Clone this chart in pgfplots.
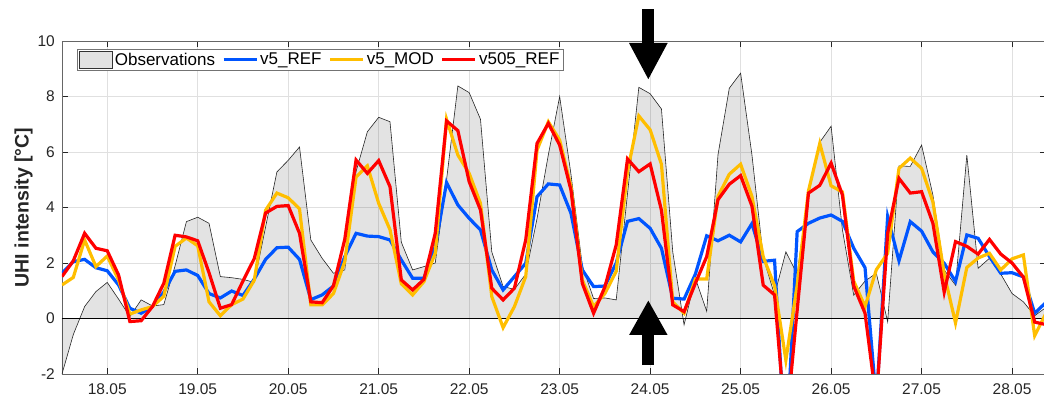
\documentclass[border=0pt]{standalone}
\usepackage{fontspec}
\setmainfont{Liberation Sans}
\usepackage{pgfplots}
\pgfplotsset{compat=1.18}
\usepackage{pgfplotstable}
\usetikzlibrary{arrows.meta}

\definecolor{refblue}{RGB}{0,85,255}
\definecolor{modyellow}{RGB}{255,190,0}
\definecolor{newred}{RGB}{255,0,0}
\definecolor{axisgray}{RGB}{38,38,38}
\definecolor{obsfill}{RGB}{227,227,227}

% 3-hourly UHI intensity, day of May (17.5 = 17.05 12:00)
\pgfplotstableread{
t       obs    ref    mod    new
17.5   -2.00   1.63   1.21   1.51
17.625 -0.58   2.05   1.48   2.08
17.75   0.43   2.13   2.83   3.07
17.875  0.97   1.83   1.87   2.53
18.0    1.30   1.72   2.25   2.44
18.125  0.70   1.21   1.39   1.57
18.25   0.07   0.37   0.16  -0.11
18.375  0.67   0.19   0.31  -0.08
18.5    0.45   0.43   0.43   0.43
18.625  0.50   0.95   0.80   1.27
18.75   1.90   1.70   2.60   3.00
18.875  3.49   1.75   2.90   2.94
19.0    3.65   1.55   2.62   2.80
19.125  3.43   0.90   0.60   1.65
19.25   1.51   0.74   0.10   0.37
19.375  1.47   0.99   0.50   0.50
19.5    1.41   0.83   0.70   1.35
19.625  1.30   1.42   1.38   2.16
19.75   3.30   2.13   3.90   3.80
19.875  5.28   2.55   4.52   4.04
20.0    5.70   2.57   4.35   4.07
20.125  6.18   2.13   3.95   3.07
20.25   2.83   0.68   0.49   0.60
20.375  2.17   0.85   0.49   0.57
20.5    1.63   1.17   0.90   1.18
20.625  1.75   2.23   2.05   2.85
20.75   5.30   3.07   5.10   5.71
20.875  6.73   2.97   5.50   5.23
21.0    7.25   2.95   4.15   5.69
21.125  7.09   2.83   3.20   4.75
21.25   2.75   2.11   1.25   1.39
21.375  1.75   1.45   0.85   1.03
21.5    1.87   1.45   1.33   1.41
21.625  2.00   2.59   2.35   3.07
21.75   5.00   4.90   7.18   7.12
21.875  8.38   4.09   5.89   6.77
22.0    8.14   3.61   5.23   4.93
22.125  7.18   3.19   4.15   3.91
22.25   2.40   1.75   0.79   1.09
22.375  1.15   1.03  -0.33   0.67
22.5    1.05   1.51   0.43   1.09
22.625  1.60   1.99   1.51   2.83
22.75   3.60   4.39   6.07   6.31
22.875  5.90   4.85   7.09   7.03
23.0    8.00   4.81   6.43   6.25
23.125  5.20   3.79   4.75   4.63
23.25   1.90   1.75   1.39   1.27
23.375  0.72   1.15   0.43   0.19
23.5    0.74   1.17   0.90   1.14
23.625  0.67   2.00   1.70   2.65
23.75   4.50   3.50   5.30   5.75
23.875  8.33   3.60   7.30   5.29
24.0    8.10   3.25   6.80   5.57
24.125  7.55   2.53   5.56   3.90
24.25   2.40   0.73   0.60   0.49
24.375 -0.23   0.70   0.19   0.25
24.5    1.45   1.60   1.42   1.27
24.625  0.26   2.98   1.42   2.23
24.75   5.90   2.80   4.40   4.28
24.875  8.30   3.00   5.20   4.84
25.0    8.84   2.76   5.56   5.15
25.125  5.90   3.42   4.40   4.05
25.25   2.20   2.06   2.22   1.20
25.375  0.85   2.10   1.18   0.85
25.5    2.40  -5.00  -1.50  -4.00
25.625  1.60   3.13   1.20   0.30
25.75   4.60   3.43   4.60   4.52
25.875  6.35   3.62   6.31   4.80
26.0    6.93   3.73   4.78   5.60
26.125  3.20   3.50   4.56   4.45
26.25   0.84   2.53   1.35   1.17
26.375  1.35   1.83   0.43   0.19
26.5    1.63  -3.00   1.76  -3.00
26.625 -0.12   3.67   2.35   3.07
26.75   5.50   2.08   5.41   5.05
26.875  5.48   3.49   5.78   4.52
27.0    6.25   3.15   5.41   4.57
27.125  4.45   2.40   4.20   3.43
27.25   1.75   1.99   1.60   0.95
27.375  1.20   1.33  -0.16   2.77
27.5    5.89   3.01   1.84   2.60
27.625  1.81   2.89   2.18   2.32
27.75   2.17   2.23   2.35   2.85
27.875  1.60   1.63   1.75   2.32
28.0    0.90   1.65   2.15   2.00
28.125  0.60   1.50   2.29   1.49
28.25   0.10   0.19  -0.62  -0.13
28.375  0.40   0.58   0.19  -0.22
}\uhidata

\begin{document}
\begin{tikzpicture}
\begin{axis}[
  scale only axis,
  width=984pt, height=333pt,
  xmin=17.5, xmax=28.375,
  ymin=-2, ymax=10,
  clip mode=individual,
  xtick={18,19,...,28},
  xticklabels={18.05,19.05,20.05,21.05,22.05,23.05,24.05,25.05,26.05,27.05,28.05},
  ytick={-2,0,2,4,6,8,10},
  yticklabels={-2,0,2,4,6,8,10},
  tick align=inside,
  major tick length=6pt,
  xmajorgrids, ymajorgrids,
  grid style={draw=black!12, line width=0.6pt},
  axis line style={draw=black!60, line width=0.8pt},
  tick style={draw=axisgray, line width=0.8pt},
  ticklabel style={font=\fontsize{15.5}{18}\selectfont, text=axisgray},
  xticklabel style={inner sep=0pt, anchor=north, yshift=-9pt},
  yticklabel style={inner sep=0pt, anchor=east, xshift=-7pt},
  ylabel={UHI intensity [°C]},
  every axis y label/.style={at={([xshift=-38.5pt]axis description cs:0,0.5)}, rotate=90, anchor=center, font=\fontsize{19.5}{22}\selectfont\bfseries, text=axisgray},
  legend columns=-1,
  legend style={at={(axis description cs:0.0152,0.976)}, anchor=north west,
    draw=black!55, line width=0.6pt, fill=white,
    font=\fontsize{17}{20}\selectfont, text=black,
    inner xsep=2pt, inner ysep=1.5pt,
    /tikz/every even column/.append style={column sep=5pt}},
  legend image code/.code={\draw[#1] (0pt,0pt) -- (33pt,0pt);},
]
% observed UHI intensity as an area against the zero baseline
\addplot[fill=black, fill opacity=0.11, draw=none, forget plot] table[x=t,y=obs]{\uhidata} \closedcycle;
\addplot[black!85, line width=0.6pt, forget plot] table[x=t,y=obs]{\uhidata};
\addplot[black, line width=0.8pt, forget plot] coordinates {(17.5,0) (28.375,0)};
\addlegendimage{legend image code/.code={\draw[fill=obsfill, draw=black!80, line width=0.6pt] (0pt,-8.5pt) rectangle (33pt,8.5pt);}}
\addlegendentry{Observations}
% model runs
\addplot[refblue, line width=3.2pt] table[x=t,y=ref]{\uhidata};
\addlegendentry{v5\_REF}
\addplot[modyellow, line width=3.2pt] table[x=t,y=mod]{\uhidata};
\addlegendentry{v5\_MOD}
\addplot[newred, line width=3.2pt] table[x=t,y=new]{\uhidata};
\addlegendentry{v505\_REF}
% markers for the highlighted day
\draw[black, line width=12.3pt, -{Triangle[width=35.7pt,length=37pt]}] (axis cs:23.98,11.14) -- (axis cs:23.98,8.595);
\draw[black, line width=12.3pt, -{Triangle[width=35.7pt,length=35pt]}] (axis cs:23.98,-1.676) -- (axis cs:23.98,0.667);
\end{axis}
\pgfresetboundingbox
\path[use as bounding box] ([xshift=-62pt,yshift=-27pt]current axis.south west) rectangle ([xshift=-2pt,yshift=41pt]current axis.north east);
\end{tikzpicture}
\end{document}
